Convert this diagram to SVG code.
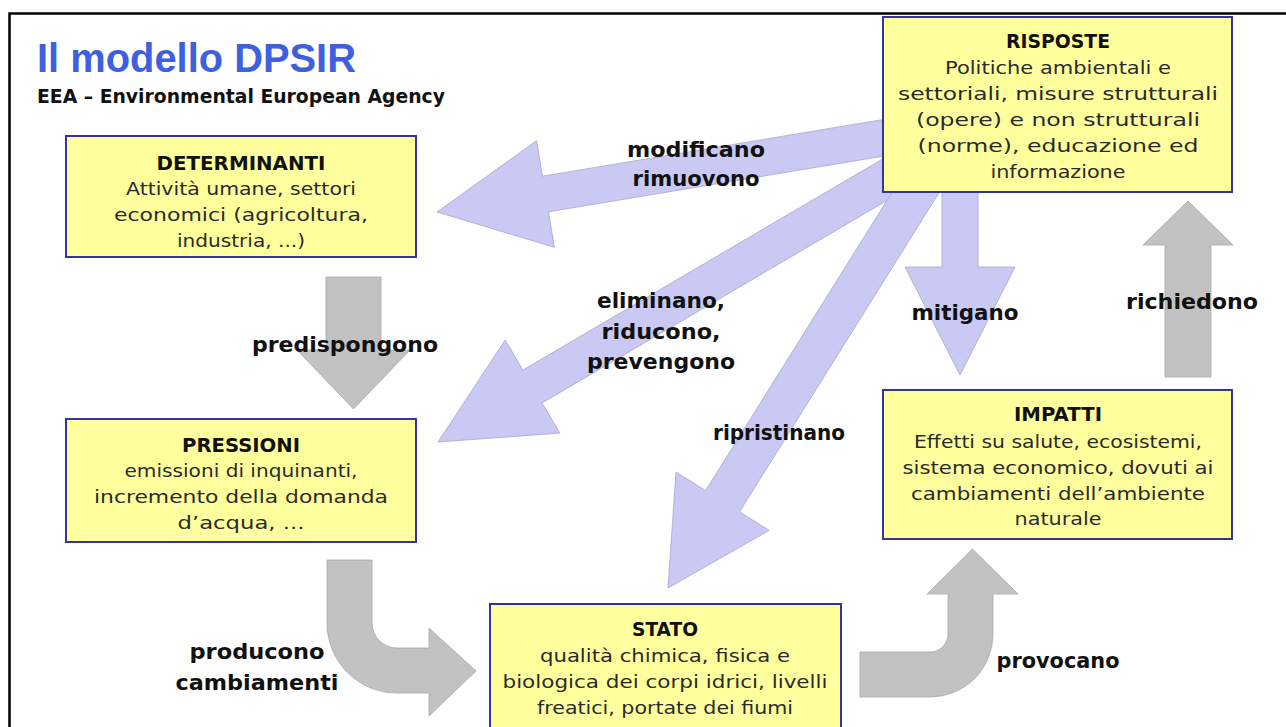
<svg xmlns="http://www.w3.org/2000/svg" width="1286" height="727" viewBox="0 0 1286 727">
<defs>
<style>
.box{fill:#FFFF9E;stroke:#34349C;stroke-width:2}
.bt{font-family:"DejaVu Sans","Liberation Sans",sans-serif;font-weight:bold;font-size:19px;fill:#111;text-anchor:middle}
.bx{font-family:"DejaVu Sans","Liberation Sans",sans-serif;font-size:18.5px;fill:#2a2a2a;text-anchor:middle}
.lb{font-family:"DejaVu Sans","Liberation Sans",sans-serif;font-weight:bold;font-size:21px;fill:#111;text-anchor:middle}
.blue{fill:#C9C9F4;stroke:#A6A6CC;stroke-width:0.8}
.gray{fill:#C2C2C2;stroke:#A8A8A8;stroke-width:0.8}
</style>
</defs>
<rect width="1286" height="727" fill="#fff"/>
<path d="M9.5,727 L9.5,13.5 L1286,13.5" fill="none" stroke="#000" stroke-width="2.5"/>
<text x="37" y="72" font-family="Liberation Sans, Arial, sans-serif" font-weight="bold" font-size="40" fill="#3E60E0" textLength="319" lengthAdjust="spacingAndGlyphs">Il modello DPSIR</text>
<text x="37" y="103" font-family="DejaVu Sans, Liberation Sans, sans-serif" font-weight="bold" font-size="19" fill="#111" textLength="408" lengthAdjust="spacingAndGlyphs">EEA – Environmental European Agency</text>
<g id="connectors">
<polygon id="arr-modificano" class="blue" points="437,212 536.6,140.7 542.5,176.2 887.8,118.8 893.8,154.4 548.5,211.8 554.4,247.3"/>
<polygon id="arr-eliminano" class="blue" points="438,442 505.2,340 522.9,370.1 902.2,147.5 921.4,180.3 542.1,402.9 559.8,433.1"/>
<polygon id="arr-ripristinano" class="blue" points="668,588 676,472 705.6,490.6 915,155.6 949,176.8 739.6,511.8 769.2,530.4"/>
<polygon id="arr-mitigano" class="blue" points="942,185 978,185 978,267 1015,267 960,375 905,267 942,267"/>
<polygon id="arr-richiedono" class="gray" points="1165,377 1211,377 1211,245 1233,245 1188,201 1143,245 1165,245"/>
<polygon id="arr-predispongono" class="gray" points="326,277 381,277 381,350 410,350 353.5,409 297,350 326,350"/>
<path id="arr-producono" class="gray" d="M327,560 L372,560 L372,623 A25,25 0 0 0 397,648 L429,648 L429,628 L476,671 L429,716 L429,693 L397,693 A70,70 0 0 1 327,623 Z"/>
<path id="arr-provocano" class="gray" d="M860,652 L930,652 A18,18 0 0 0 948,634 L948,594 L927,594 L972.5,549 L1018,594 L993,594 L993,634 A63,63 0 0 1 930,697 L860,697 Z"/>
<text class="lb" x="696" y="157" textLength="138" lengthAdjust="spacingAndGlyphs">modificano</text>
<text class="lb" x="696" y="186" textLength="127" lengthAdjust="spacingAndGlyphs">rimuovono</text>
<text class="lb" x="661" y="308" textLength="128" lengthAdjust="spacingAndGlyphs">eliminano,</text>
<text class="lb" x="661" y="339" textLength="119" lengthAdjust="spacingAndGlyphs">riducono,</text>
<text class="lb" x="661" y="369" textLength="148" lengthAdjust="spacingAndGlyphs">prevengono</text>
<text class="lb" x="779" y="440" textLength="132" lengthAdjust="spacingAndGlyphs">ripristinano</text>
<text class="lb" x="345" y="352" textLength="186" lengthAdjust="spacingAndGlyphs">predispongono</text>
<text class="lb" x="965" y="320" textLength="107" lengthAdjust="spacingAndGlyphs">mitigano</text>
<text class="lb" x="1192" y="309" textLength="132" lengthAdjust="spacingAndGlyphs">richiedono</text>
<text class="lb" x="257" y="659" textLength="135" lengthAdjust="spacingAndGlyphs">producono</text>
<text class="lb" x="257" y="690" textLength="163" lengthAdjust="spacingAndGlyphs">cambiamenti</text>
<text class="lb" x="1058" y="668" textLength="123" lengthAdjust="spacingAndGlyphs">provocano</text>
</g>
<g id="determinanti">
<rect class="box" x="66" y="136" width="350" height="121"/>
<text class="bt" x="241" y="170" textLength="169" lengthAdjust="spacingAndGlyphs">DETERMINANTI</text>
<text class="bx" x="241" y="195" textLength="230" lengthAdjust="spacingAndGlyphs">Attività umane, settori</text>
<text class="bx" x="241" y="221" textLength="254" lengthAdjust="spacingAndGlyphs">economici (agricoltura,</text>
<text class="bx" x="241" y="247" textLength="128" lengthAdjust="spacingAndGlyphs">industria, ...)</text>
</g>
<g id="pressioni">
<rect class="box" x="66" y="419" width="350" height="123"/>
<text class="bt" x="241" y="452" textLength="118" lengthAdjust="spacingAndGlyphs">PRESSIONI</text>
<text class="bx" x="241" y="477" textLength="233" lengthAdjust="spacingAndGlyphs">emissioni di inquinanti,</text>
<text class="bx" x="241" y="503" textLength="294" lengthAdjust="spacingAndGlyphs">incremento della domanda</text>
<text class="bx" x="241" y="529" textLength="127" lengthAdjust="spacingAndGlyphs">d’acqua, ...</text>
</g>
<g id="risposte">
<rect class="box" x="883" y="17" width="349" height="175"/>
<text class="bt" x="1058" y="48" textLength="104" lengthAdjust="spacingAndGlyphs">RISPOSTE</text>
<text class="bx" x="1058" y="74" textLength="226" lengthAdjust="spacingAndGlyphs">Politiche ambientali e</text>
<text class="bx" x="1058" y="100" textLength="320" lengthAdjust="spacingAndGlyphs">settoriali, misure strutturali</text>
<text class="bx" x="1058" y="126" textLength="284" lengthAdjust="spacingAndGlyphs">(opere) e non strutturali</text>
<text class="bx" x="1058" y="152" textLength="281" lengthAdjust="spacingAndGlyphs">(norme), educazione ed</text>
<text class="bx" x="1058" y="178" textLength="135" lengthAdjust="spacingAndGlyphs">informazione</text>
</g>
<g id="impatti">
<rect class="box" x="883" y="390" width="349" height="149"/>
<text class="bt" x="1058" y="421" textLength="88" lengthAdjust="spacingAndGlyphs">IMPATTI</text>
<text class="bx" x="1058" y="448" textLength="288" lengthAdjust="spacingAndGlyphs">Effetti su salute, ecosistemi,</text>
<text class="bx" x="1058" y="474" textLength="311" lengthAdjust="spacingAndGlyphs">sistema economico, dovuti ai</text>
<text class="bx" x="1058" y="500" textLength="294" lengthAdjust="spacingAndGlyphs">cambiamenti dell’ambiente</text>
<text class="bx" x="1058" y="525" textLength="87" lengthAdjust="spacingAndGlyphs">naturale</text>
</g>
<g id="stato">
<rect class="box" x="490" y="604" width="351" height="130"/>
<text class="bt" x="665" y="636" textLength="66" lengthAdjust="spacingAndGlyphs">STATO</text>
<text class="bx" x="665" y="662" textLength="250" lengthAdjust="spacingAndGlyphs">qualità chimica, fisica e</text>
<text class="bx" x="665" y="688" textLength="325" lengthAdjust="spacingAndGlyphs">biologica dei corpi idrici, livelli</text>
<text class="bx" x="665" y="714" textLength="256" lengthAdjust="spacingAndGlyphs">freatici, portate dei fiumi</text>
</g>
</svg>
